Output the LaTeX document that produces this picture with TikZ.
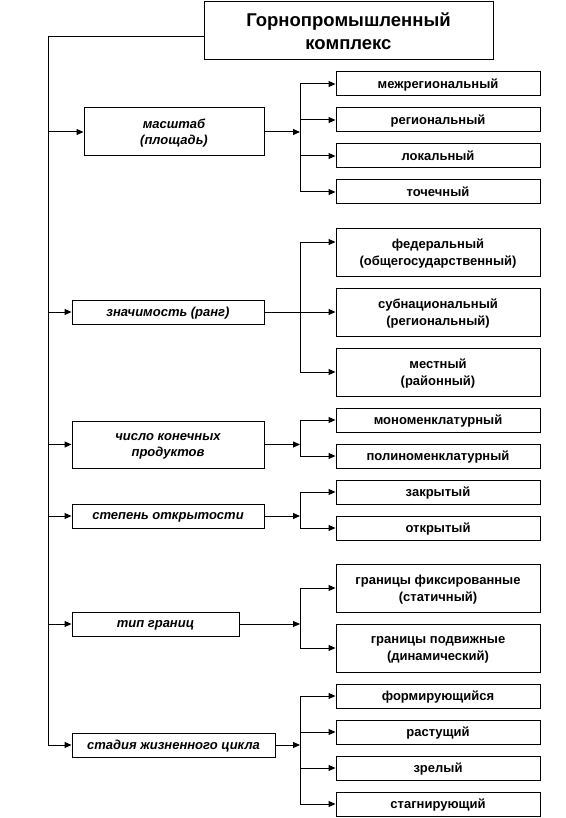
\documentclass[tikz,border=0pt]{standalone}
\usepackage{fontspec}
\setmainfont{Liberation Sans}
\usetikzlibrary{arrows.meta}
\begin{document}
\begin{tikzpicture}[x=1pt,y=-1pt,
  every path/.style={line width=1pt},
  box/.style={draw,line width=1pt,inner sep=0pt,align=center,text depth=0pt,font=\fontsize{13}{17}\selectfont\bfseries},
  cat/.style={box,font=\fontsize{13}{16}\selectfont\bfseries\itshape},
  rbox/.style={box,minimum width=204pt,minimum height=24pt},
  rtall/.style={box,minimum width=204pt,minimum height=48pt},
  arr/.style={-{Triangle[length=7pt,width=6pt]}}]
\useasboundingbox (0,0) rectangle (565,818);
% title
\node[box,minimum width=289pt,minimum height=58pt,font=\fontsize{18.5}{23}\selectfont\bfseries] (title) at (348.5,31) {Горнопромышленный\\комплекс};
% categories
\node[cat,minimum width=180pt,minimum height=48pt] (c1) at (174,132) {масштаб\\(площадь)};
\node[cat,minimum width=192pt,minimum height=24pt] (c2) at (168,312) {значимость (ранг)};
\node[cat,minimum width=192pt,minimum height=47pt] (c3) at (168,444.5) {число конечных\\продуктов};
\node[cat,minimum width=192pt,minimum height=24pt] (c4) at (168,516) {степень открытости};
\node[cat,minimum width=167pt,minimum height=24pt] (c5) at (155.5,624) {тип границ};
\node[cat,minimum width=203pt,minimum height=24pt] (c6) at (173.5,745) {стадия жизненного цикла};
% right boxes
\node[rbox] (r1a) at (438,84) {межрегиональный};
\node[rbox] (r1b) at (438,120) {региональный};
\node[rbox] (r1c) at (438,156) {локальный};
\node[rbox] (r1d) at (438,192) {точечный};
\node[rtall] (r2a) at (438,252) {федеральный\\(общегосударственный)};
\node[rtall] (r2b) at (438,312) {субнациональный\\(региональный)};
\node[rtall] (r2c) at (438,372) {местный\\(районный)};
\node[rbox] (r3a) at (438,420) {мономенклатурный};
\node[rbox] (r3b) at (438,456) {полиноменклатурный};
\node[rbox] (r4a) at (438,492) {закрытый};
\node[rbox] (r4b) at (438,528) {открытый};
\node[rtall] (r5a) at (438,588) {границы фиксированные\\(статичный)};
\node[rtall] (r5b) at (438,648) {границы подвижные\\(динамический)};
\node[rbox] (r6a) at (438,696) {формирующийся};
\node[rbox] (r6b) at (438,732) {растущий};
\node[rbox] (r6c) at (438,768) {зрелый};
\node[rbox] (r6d) at (438,804) {стагнирующий};
% trunk
\coordinate (t0) at (48,37);
\draw[arr] (t0 -| title.west) -- (t0) |- (c6.west);
\foreach \c in {c1,c2,c3,c4,c5} \draw[arr] (t0 |- \c.west) -- (\c.west);
% group 1
\coordinate (b1) at (300,132);
\draw[arr] (c1.east) -- (b1);
\draw (b1 |- r1a.west) -- (b1 |- r1d.west);
\foreach \r in {r1a,r1b,r1c,r1d} \draw[arr] (b1 |- \r.west) -- (\r.west);
% group 2
\coordinate (b2) at (300,312);
\coordinate (r2top) at ([yshift=10pt]r2a.west);
\draw (b2 |- r2top) -- (b2 |- r2c.west);
\draw[arr] (b2 |- r2top) -- (r2top);
\draw[arr] (c2.east) -- (r2b.west);
\draw[arr] (b2 |- r2c.west) -- (r2c.west);
% group 3
\coordinate (b3) at (300,444.5);
\draw[arr] (c3.east) -- (b3);
\draw (b3 |- r3a.west) -- (b3 |- r3b.west);
\foreach \r in {r3a,r3b} \draw[arr] (b3 |- \r.west) -- (\r.west);
% group 4
\coordinate (b4) at (300,516);
\draw[arr] (c4.east) -- (b4);
\draw (b4 |- r4a.west) -- (b4 |- r4b.west);
\foreach \r in {r4a,r4b} \draw[arr] (b4 |- \r.west) -- (\r.west);
% group 5
\coordinate (b5) at (300,624);
\draw[arr] (c5.east) -- (b5);
\draw (b5 |- r5a.west) -- (b5 |- r5b.west);
\foreach \r in {r5a,r5b} \draw[arr] (b5 |- \r.west) -- (\r.west);
% group 6
\coordinate (b6) at (300,745);
\draw[arr] (c6.east) -- (b6);
\draw (b6 |- r6a.west) -- (b6 |- r6d.west);
\foreach \r in {r6a,r6b,r6c,r6d} \draw[arr] (b6 |- \r.west) -- (\r.west);
\end{tikzpicture}
\end{document}
